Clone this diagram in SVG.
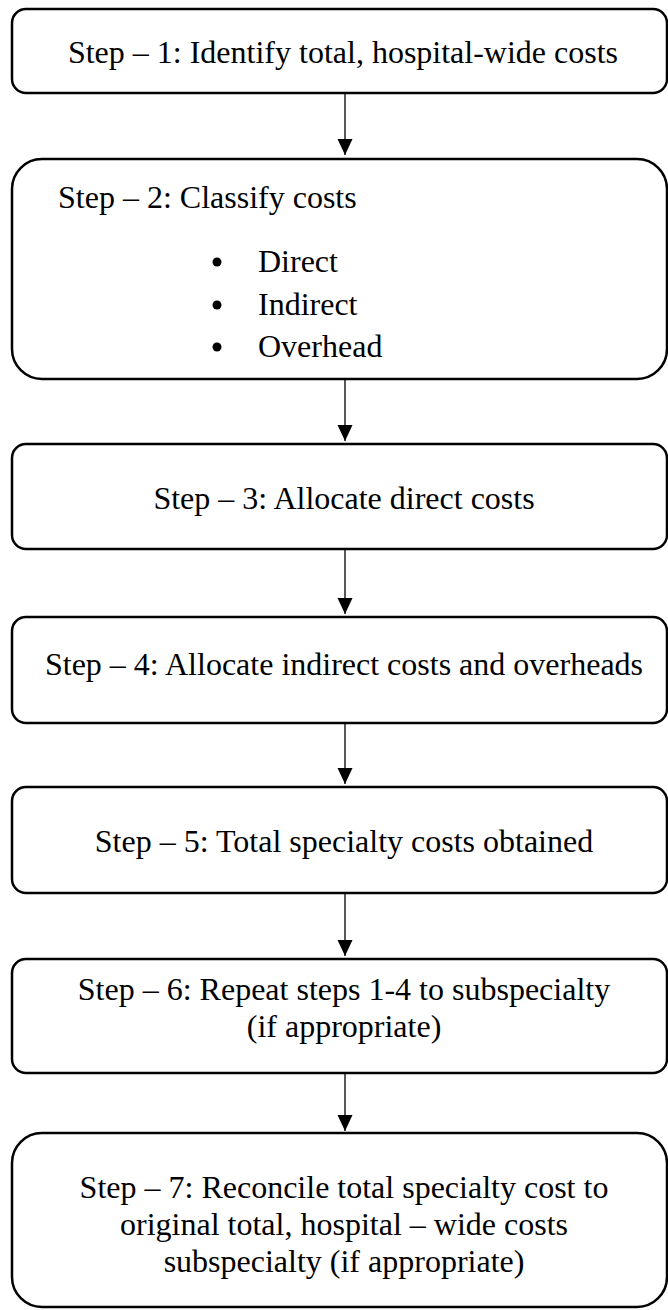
<svg xmlns="http://www.w3.org/2000/svg" width="668" height="1310" viewBox="0 0 668 1310">
<defs>
<marker id="ah" markerWidth="16" markerHeight="16" refX="16" refY="7.5" orient="auto" markerUnits="userSpaceOnUse" viewBox="0 0 16 15">
<path d="M0,0 L16,7.5 L0,15 Z" fill="#000"/>
</marker>
<style>
.box{fill:#fff;stroke:#000;stroke-width:2.5}
.t{font-family:"Liberation Serif","Times New Roman",serif;font-size:32px;fill:#000}
.c{text-anchor:middle}
.conn{stroke:#000;stroke-width:1.3;fill:none}
</style>
</defs>
<rect width="668" height="1310" fill="#fff"/>
<g id="connectors">
<line class="conn" x1="345" y1="93" x2="345" y2="155" marker-end="url(#ah)"/>
<line class="conn" x1="345" y1="379" x2="345" y2="441" marker-end="url(#ah)"/>
<line class="conn" x1="345" y1="549" x2="345" y2="614" marker-end="url(#ah)"/>
<line class="conn" x1="345" y1="723" x2="345" y2="784" marker-end="url(#ah)"/>
<line class="conn" x1="345" y1="893" x2="345" y2="956" marker-end="url(#ah)"/>
<line class="conn" x1="345" y1="1073" x2="345" y2="1131" marker-end="url(#ah)"/>
</g>
<g id="step1">
<rect class="box" x="12" y="9" width="655" height="84" rx="14"/>
<text class="t c" x="343" y="63">Step – 1: Identify total, hospital-wide costs</text>
</g>
<g id="step2">
<rect class="box" x="12" y="159" width="655" height="220" rx="30"/>
<text class="t" x="58" y="208">Step – 2: Classify costs</text>
<circle cx="217" cy="262" r="4.5"/>
<circle cx="217" cy="305" r="4.5"/>
<circle cx="217" cy="347" r="4.5"/>
<text class="t" x="258" y="272">Direct</text>
<text class="t" x="258" y="315">Indirect</text>
<text class="t" x="258" y="357">Overhead</text>
</g>
<g id="step3">
<rect class="box" x="12" y="444" width="655" height="105" rx="14"/>
<text class="t c" x="344" y="509">Step – 3: Allocate direct costs</text>
</g>
<g id="step4">
<rect class="box" x="12" y="617" width="655" height="106" rx="14"/>
<text class="t c" x="344" y="675">Step – 4: Allocate indirect costs and overheads</text>
</g>
<g id="step5">
<rect class="box" x="12" y="787" width="655" height="106" rx="14"/>
<text class="t c" x="344" y="852">Step – 5: Total specialty costs obtained</text>
</g>
<g id="step6">
<rect class="box" x="12" y="959" width="655" height="114" rx="14"/>
<text class="t c" x="344" y="1000">Step – 6: Repeat steps 1-4 to subspecialty</text>
<text class="t c" x="344" y="1037">(if appropriate)</text>
</g>
<g id="step7">
<rect class="box" x="12" y="1133" width="655" height="174" rx="30"/>
<text class="t c" x="344" y="1198">Step – 7: Reconcile total specialty cost to</text>
<text class="t c" x="344" y="1235">original total, hospital – wide costs</text>
<text class="t c" x="344" y="1272">subspecialty (if appropriate)</text>
</g>
</svg>
